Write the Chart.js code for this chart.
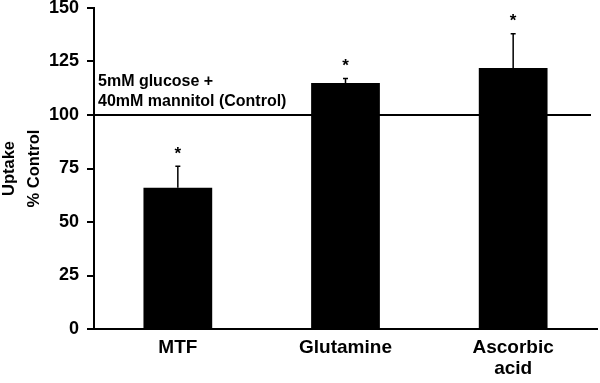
<!DOCTYPE html>
<html>
<head>
<meta charset="utf-8">
<script src="https://cdn.jsdelivr.net/npm/chart.js@4/dist/chart.umd.min.js"></script>
<style>
  html, body { margin: 0; padding: 0; background: #fff; }
  #wrap { width: 600px; height: 383px; }
</style>
</head>
<body>
<div id="wrap"><canvas id="uptakeChart" width="600" height="383"></canvas></div>
<script>
// data
const categories = ["MTF", "Glutamine", ["Ascorbic", "acid"]];
const uptake = [66, 115, 122];
const errorUp = [10, 2, 16];
const significant = [true, true, true];
const controlLevel = 100;
const controlLabel = ["5mM glucose +", "40mM mannitol (Control)"];
const yMin = 0, yMax = 150, yStep = 25;

const FONT = "'Liberation Sans', Arial, Helvetica, sans-serif";

// error bars, asterisks and the control line
const extras = {
  id: "extras",
  afterDatasetsDraw(chart) {
    const ctx = chart.ctx;
    const x = chart.scales.x, y = chart.scales.y;
    const area = chart.chartArea;

    // control line at 100%
    const yc = y.getPixelForValue(controlLevel);
    ctx.save();
    ctx.strokeStyle = "#000";
    ctx.lineWidth = 2;
    ctx.beginPath();
    ctx.moveTo(area.left, yc);
    ctx.lineTo(area.right - 6, yc);
    ctx.stroke();

    ctx.fillStyle = "#000";
    ctx.font = "bold 16px " + FONT;
    ctx.textAlign = "left";
    ctx.textBaseline = "alphabetic";
    ctx.fillText(controlLabel[0], area.left + 4, yc - 29);
    ctx.fillText(controlLabel[1], area.left + 4, yc - 9);

    uptake.forEach((v, i) => {
      const cx = x.getPixelForValue(i);
      const top = y.getPixelForValue(v + errorUp[i]);
      const base = y.getPixelForValue(v);
      ctx.lineWidth = 1.5;
      ctx.beginPath();
      ctx.moveTo(cx, base);
      ctx.lineTo(cx, top);
      ctx.moveTo(cx - 2.5, top);
      ctx.lineTo(cx + 2.5, top);
      ctx.stroke();
      if (significant[i]) {
        ctx.font = "bold 17px " + FONT;
        ctx.textAlign = "center";
        ctx.textBaseline = "middle";
        ctx.fillText("*", cx, top - 12);
      }
    });
    ctx.restore();
  }
};

new Chart(document.getElementById("uptakeChart"), {
  type: "bar",
  data: {
    labels: categories,
    datasets: [{
      data: uptake,
      backgroundColor: "#000",
      borderWidth: 0,
      barPercentage: 0.41,
      categoryPercentage: 1.0
    }]
  },
  options: {
    responsive: false,
    animation: false,
    layout: { padding: { top: 0, right: 3, left: 0, bottom: 0 } },
    plugins: {
      legend: { display: false },
      tooltip: { enabled: false }
    },
    scales: {
      x: {
        grid: { display: false, drawTicks: false },
        border: { color: "#000", width: 2 },
        ticks: {
          color: "#000",
          padding: 8,
          maxRotation: 0,
          font: { family: FONT, size: 19, weight: "bold", lineHeight: 1.1 }
        },
        afterFit(scale) { scale.height = 54; }
      },
      y: {
        min: yMin,
        max: yMax,
        grid: { display: true, drawOnChartArea: false, drawTicks: true, tickLength: 7, color: "#000", lineWidth: 2 },
        border: { color: "#000", width: 2 },
        ticks: {
          stepSize: yStep,
          color: "#000",
          padding: 8,
          font: { family: FONT, size: 18, weight: "bold" }
        },
        title: {
          display: true,
          text: ["Uptake", "% Control"],
          color: "#000",
          padding: { top: -3, bottom: 4 },
          font: { family: FONT, size: 16.5, weight: "bold", lineHeight: 1.5 }
        },
        afterFit(scale) {
          scale.width = 94;
          scale.paddingTop = 8;
          scale.paddingBottom = 0;
        }
      }
    }
  },
  plugins: [extras]
});
</script>
</body>
</html>
